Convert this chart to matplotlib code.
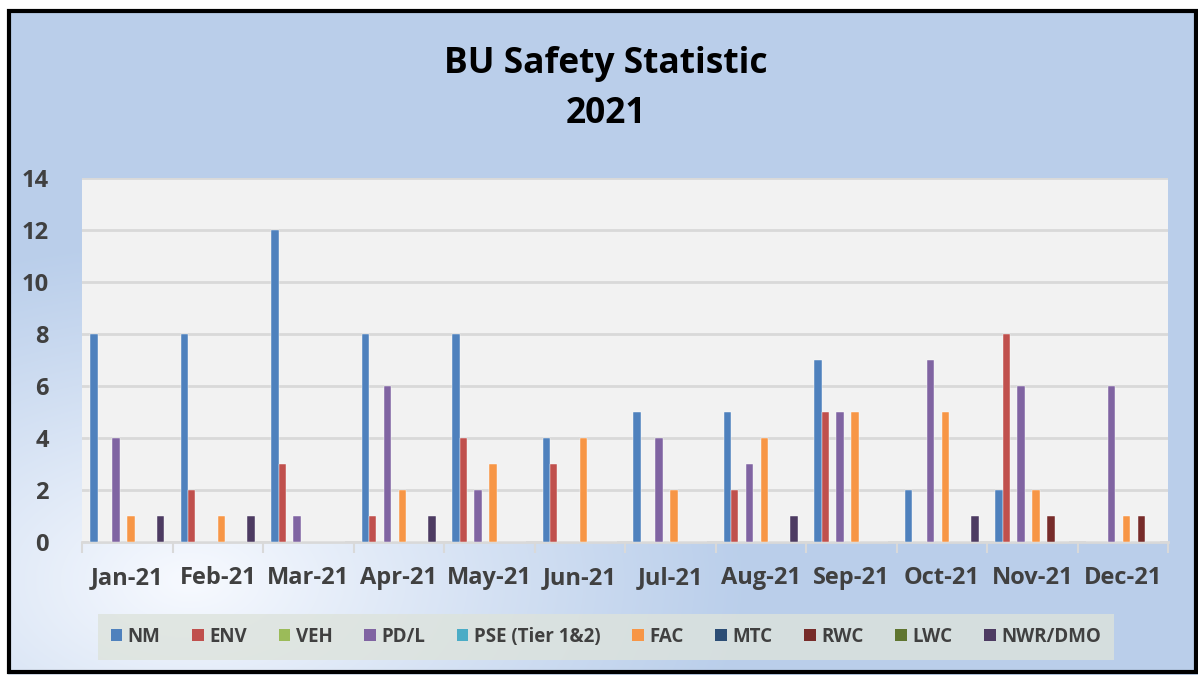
import numpy as np
import matplotlib.pyplot as plt
from matplotlib.patches import Rectangle, Patch

# data
months = ['Jan-21', 'Feb-21', 'Mar-21', 'Apr-21', 'May-21', 'Jun-21',
          'Jul-21', 'Aug-21', 'Sep-21', 'Oct-21', 'Nov-21', 'Dec-21']
series = ['NM', 'ENV', 'VEH', 'PD/L', 'PSE (Tier 1&2)', 'FAC', 'MTC', 'RWC', 'LWC', 'NWR/DMO']
nm = [8, 8, 12, 8, 8, 4, 5, 5, 7, 2, 2, 0]
env = [0, 2, 3, 1, 4, 3, 0, 2, 5, 0, 8, 0]
veh = [0] * 12
pdl = [4, 0, 1, 6, 2, 0, 4, 3, 5, 7, 6, 6]
pse = [0] * 12
fac = [1, 1, 0, 2, 3, 4, 2, 4, 5, 5, 2, 1]
mtc = [0] * 12
rwc = [0, 0, 0, 0, 0, 0, 0, 0, 0, 0, 1, 1]
lwc = [0] * 12
nwr = [1, 1, 0, 1, 0, 0, 0, 1, 0, 1, 0, 0]
values = [nm, env, veh, pdl, pse, fac, mtc, rwc, lwc, nwr]
colors = ['#4F81BD', '#C0504D', '#9BBB59', '#8064A2', '#4BACC6',
          '#F79646', '#2C4D75', '#772C2A', '#5F7530', '#4D3B62']

W, H = 1198, 675
fig = plt.figure(figsize=(W / 100, H / 100), dpi=100)

# background gradient (light blue with a white glow at lower left)
bg = fig.add_axes([0, 0, 1, 1], zorder=-10)
yy, xx = np.mgrid[0:H, 0:W]
d = np.sqrt(((xx - 190) / 560.0) ** 2 + ((yy - 580) / 340.0) ** 2)
w = np.clip(1 - d, 0, 1) ** 1.1
blue = np.array([0.73, 0.81, 0.92])
img = blue[None, None, :] * (1 - w[..., None]) + np.array([0.97, 0.98, 1.0]) * w[..., None]
img[yy < 10] = 1.0
img[xx < 8] = 1.0
bg.imshow(img, extent=[0, W, H, 0], aspect='auto')
bg.set_xlim(0, W)
bg.set_ylim(H, 0)
bg.axis('off')
bg.add_patch(Rectangle((9, 11), W - 11, H - 14, fill=False, edgecolor='black', linewidth=3))

ax = fig.add_axes([82 / W, 1 - 542 / H, (1168 - 82) / W, (542 - 178) / H])
ax.set_facecolor('#F2F2F2')
x = np.arange(len(months))
bw = 0.082
for i, (name, vals) in enumerate(zip(series, values)):
    ax.bar(x + (i - 4.5) * bw, vals, width=bw, color=colors[i], label=name,
           edgecolor='white', linewidth=0.3, zorder=3)

ax.set_xlim(-0.5, 11.5)
ax.set_ylim(0, 14)
ax.set_yticks(range(0, 15, 2))
ax.grid(axis='y', color='#D9D9D9', linewidth=2, zorder=0)
ax.set_xticks(x)
ax.set_xticklabels(months)
ax.set_xticks(np.arange(-0.5, 12, 1), minor=True)
ax.tick_params(axis='x', which='major', length=0, pad=17)
ax.tick_params(axis='x', which='minor', length=8, width=1.5, color='#D9D9D9')
ax.tick_params(axis='y', length=0, pad=24)
for lab in ax.get_xticklabels() + ax.get_yticklabels():
    lab.set_fontfamily('Open Sans')
    lab.set_fontweight('bold')
    lab.set_fontsize(17)
    lab.set_color('#404040')
for s in ['top', 'right', 'left']:
    ax.spines[s].set_visible(False)
ax.spines['bottom'].set_color('#D9D9D9')
ax.spines['bottom'].set_linewidth(2)

fig.text(606 / W, 1 - 89 / H, 'BU Safety Statistic\n2021', ha='center', va='center',
         fontsize=25.5, fontweight='bold', family='Open Sans', color='black', linespacing=1.55)

handles = [Patch(facecolor=c, label=n) for c, n in zip(colors, series)]
leg = fig.legend(handles=handles, loc='center', bbox_to_anchor=(606 / W, 1 - 637 / H), ncol=10,
                 frameon=True, fancybox=False, handlelength=0.6, handleheight=0.6,
                 handletextpad=0.3, columnspacing=1.7, borderpad=0.7,
                 prop={'family': 'Open Sans', 'weight': 'bold', 'size': 13.5})
leg.get_frame().set_facecolor('#DDE3DC')
leg.get_frame().set_alpha(0.8)
leg.get_frame().set_edgecolor('none')
for t in leg.get_texts():
    t.set_color('#404040')

fig.savefig('out.png', dpi=100)
